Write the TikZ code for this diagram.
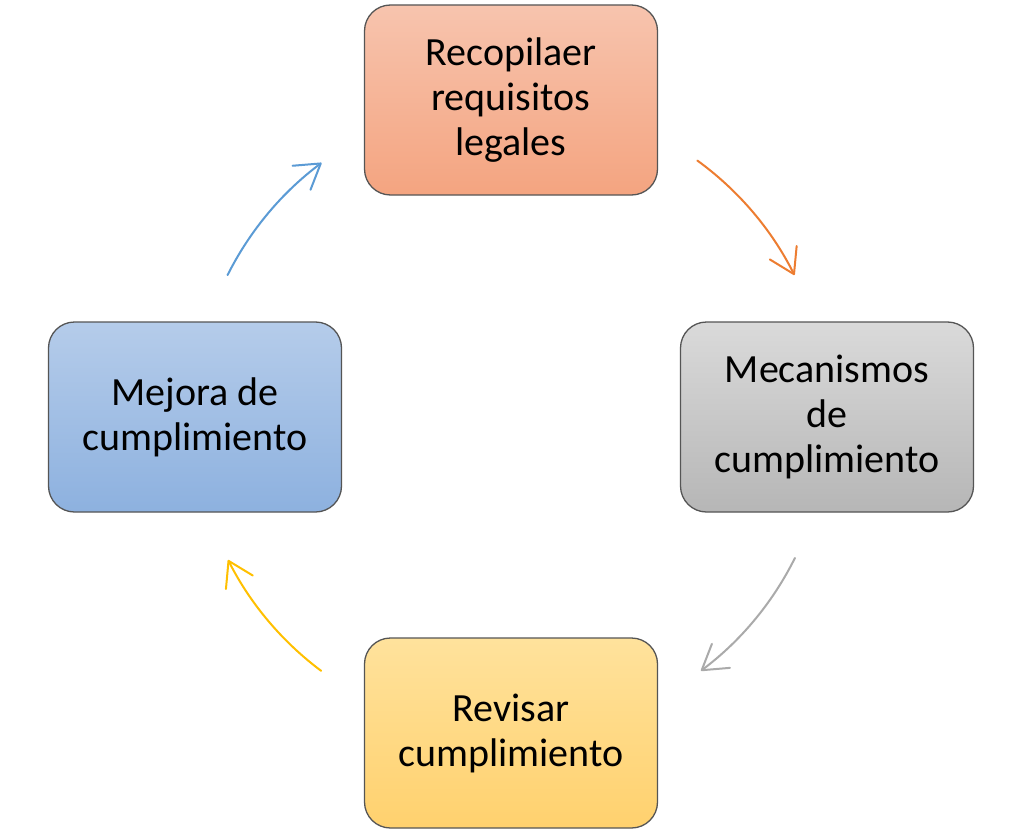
\documentclass[tikz,border=0pt]{standalone}
\usepackage{fontspec}
\setmainfont{Carlito}
\usetikzlibrary{arrows.meta}
\definecolor{orT}{RGB}{247,196,174}
\definecolor{orB}{RGB}{244,164,128}
\definecolor{grT}{RGB}{218,218,218}
\definecolor{grB}{RGB}{182,182,182}
\definecolor{yeT}{RGB}{255,226,156}
\definecolor{yeB}{RGB}{255,209,110}
\definecolor{blT}{RGB}{181,204,234}
\definecolor{blB}{RGB}{141,177,223}
\definecolor{arOr}{RGB}{237,125,49}
\definecolor{arGr}{RGB}{170,170,170}
\definecolor{arYe}{RGB}{255,192,0}
\definecolor{arBl}{RGB}{91,155,213}
\definecolor{edge}{RGB}{85,85,85}
\tikzset{
  stepbox/.style={draw=edge, line width=1.3pt, rounded corners=26pt,
    minimum width=293pt, minimum height=190pt, align=center,
    font=\fontsize{40}{45}\selectfont, text=black, inner sep=0pt},
  cyc/.style={line width=2pt, line cap=round,
    -{Straight Barb[length=24pt, width=30pt, line width=2pt, round]}}
}
\begin{document}
\begin{tikzpicture}[x=1pt,y=1pt]
\useasboundingbox (0,0) rectangle (1024,-837);
\fill[white] (0,0) rectangle (1024,-837);
\node[stepbox, top color=orT, bottom color=orB] (top) at (511,-100) {Recopilaer\\requisitos\\legales};
\node[stepbox, top color=grT, bottom color=grB] (right) at (827,-417) {Mecanismos\\de\\cumplimiento};
\node[stepbox, top color=yeT, bottom color=yeB] (bottom) at (511,-733) {Revisar\\cumplimiento};
\node[stepbox, top color=blT, bottom color=blB] (left) at (195,-417) {Mejora de\\cumplimiento};
\coordinate (c) at (511,-417);
\coordinate (o1) at ([shift={(54:317)}]c);
\coordinate (g1) at ([shift={(-26.4:317)}]c);
\coordinate (y1) at ([shift={(-126.8:317)}]c);
\coordinate (b1) at ([shift={(153.4:317)}]c);
\draw[cyc, arOr] (o1) arc[start angle=54, end angle=26.6, radius=317];
\draw[cyc, arGr] (g1) arc[start angle=-26.4, end angle=-53.2, radius=317];
\draw[cyc, arYe] (y1) arc[start angle=-126.8, end angle=-153.2, radius=317];
\draw[cyc, arBl] (b1) arc[start angle=153.4, end angle=126.7, radius=317];
\end{tikzpicture}
\end{document}
